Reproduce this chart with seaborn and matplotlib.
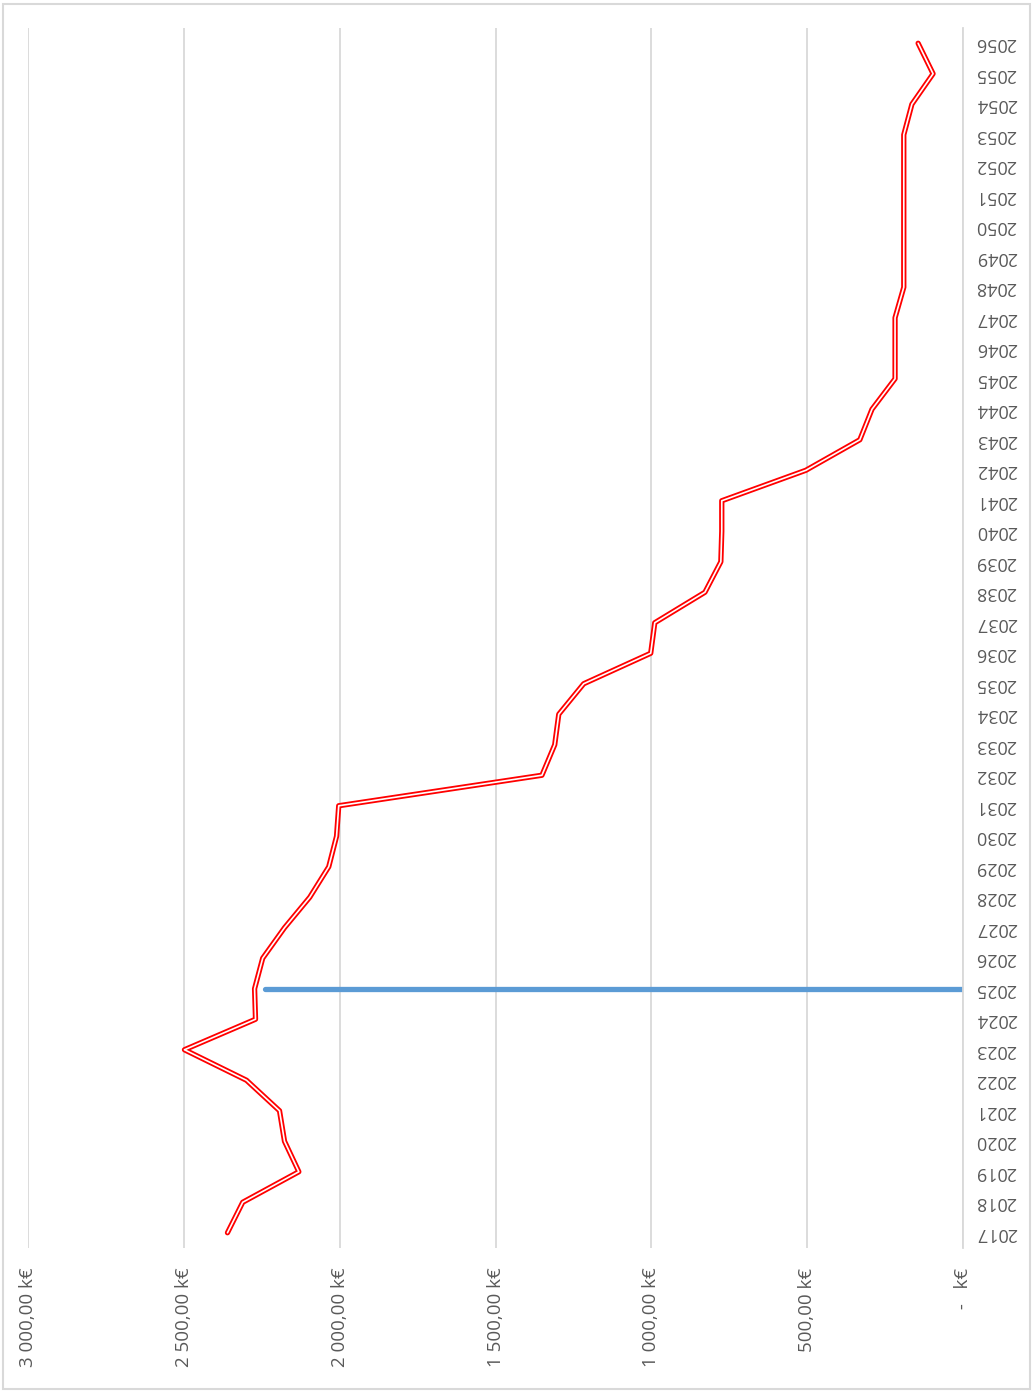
import matplotlib
matplotlib.use("Agg")
import matplotlib.pyplot as plt
import seaborn as sns
import pandas as pd
from matplotlib.patches import Rectangle

# datos (k€ por año)
years = list(range(2017, 2057))
values = [2360, 2311, 2131, 2177, 2193, 2299, 2498, 2270, 2273, 2247,
          2177, 2096, 2035, 2010, 2003, 1351, 1310, 1297, 1217, 1002,
          989, 828, 777, 774, 774, 504, 331, 292, 218, 218,
          218, 190, 190, 190, 190, 190, 190, 164, 96, 144]

# linea azul (año actual)
marker_years = [2025, 2025]
marker_values = [0, 2240]

value_ticks = [3000, 2500, 2000, 1500, 1000, 500, 0]
value_labels = ["3 000,00 k€", "2 500,00 k€", "2 000,00 k€", "1 500,00 k€",
                "1 000,00 k€", "500,00 k€", " -   k€"]

df = pd.DataFrame({"year": years, "value": values})
df_marker = pd.DataFrame({"year": marker_years, "value": marker_values})

sns.set_style("white")
plt.rcParams["font.family"] = ["Open Sans", "DejaVu Sans"]

fig = plt.figure(figsize=(10.33, 13.94), dpi=100)
ax = fig.add_axes([28 / 1033, 1 - 1248 / 1394, (963 - 28) / 1033, (1248 - 28) / 1394])

# marco del grafico
fig.patches.append(Rectangle((3 / 1033, 1 - 1389 / 1394), 1027 / 1033, 1385 / 1394,
                             transform=fig.transFigure, fill=False,
                             edgecolor="#d9d9d9", linewidth=1.5))

# linea doble roja
sns.lineplot(ax=ax, data=df, x="value", y="year", orient="y", sort=False,
             estimator=None, color="#ff0000", linewidth=3.8, zorder=3)
sns.lineplot(ax=ax, data=df, x="value", y="year", orient="y", sort=False,
             estimator=None, color="white", linewidth=1.2, zorder=4)
sns.lineplot(ax=ax, data=df_marker, x="value", y="year", orient="y", sort=False,
             estimator=None, color="#5b9bd5", linewidth=3.8, zorder=2)

ax.set_xlim(3000, 0)
ax.set_ylim(2016.5, 2056.5)
ax.set_xticks(value_ticks)
ax.set_xticklabels(value_labels, rotation=90, color="#595959", fontsize=13.5)
ax.set_yticks(years)
ax.set_yticklabels([str(y) for y in years], rotation=180, color="#595959", fontsize=13)
ax.yaxis.tick_right()
ax.tick_params(axis="y", length=0, pad=9)
ax.tick_params(axis="x", length=0, pad=14)
for lbl in ax.get_yticklabels():
    lbl.set_horizontalalignment("right")
    lbl.set_verticalalignment("center")
    lbl.set_rotation_mode("anchor")

ax.grid(axis="x", color="#d9d9d9", linewidth=1.3)
ax.grid(axis="y", visible=False)
for side in ["top", "left", "bottom"]:
    ax.spines[side].set_visible(False)
ax.spines["right"].set_color("#d9d9d9")
ax.spines["right"].set_linewidth(1.3)
ax.set_xlabel("")
ax.set_ylabel("")

fig.savefig("out.png", dpi=100)
